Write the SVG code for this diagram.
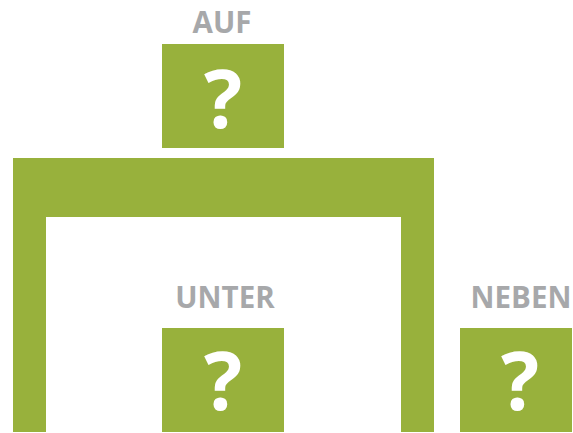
<svg xmlns="http://www.w3.org/2000/svg" width="573" height="433" viewBox="0 0 573 433">
<style>
.box{fill:#98b13c}
.lbl{font-family:"Open Sans","Liberation Sans",sans-serif;font-weight:bold;font-size:29.5px;fill:#a7a8aa;text-anchor:middle}
.q{font-family:"Open Sans","Liberation Sans",sans-serif;font-weight:bold;font-size:80px;fill:#ffffff;text-anchor:middle}
</style>
<rect width="573" height="433" fill="#ffffff"/>
<g id="table">
<path class="box" d="M13,158 H434 V432 H401 V217 H46 V432 H13 Z"/>
</g>
<g id="auf">
<text class="lbl" x="222" y="33">AUF</text>
<rect class="box" x="162" y="44" width="122" height="104"/>
<text class="q" x="223" y="128">?</text>
</g>
<g id="unter">
<text class="lbl" x="225" y="308">UNTER</text>
<rect class="box" x="162" y="328" width="122" height="104"/>
<text class="q" x="223" y="410">?</text>
</g>
<g id="neben">
<text class="lbl" x="521" y="308">NEBEN</text>
<rect class="box" x="460" y="328" width="112" height="104"/>
<text class="q" x="520" y="410">?</text>
</g>
<g id="connectors"></g>
</svg>
